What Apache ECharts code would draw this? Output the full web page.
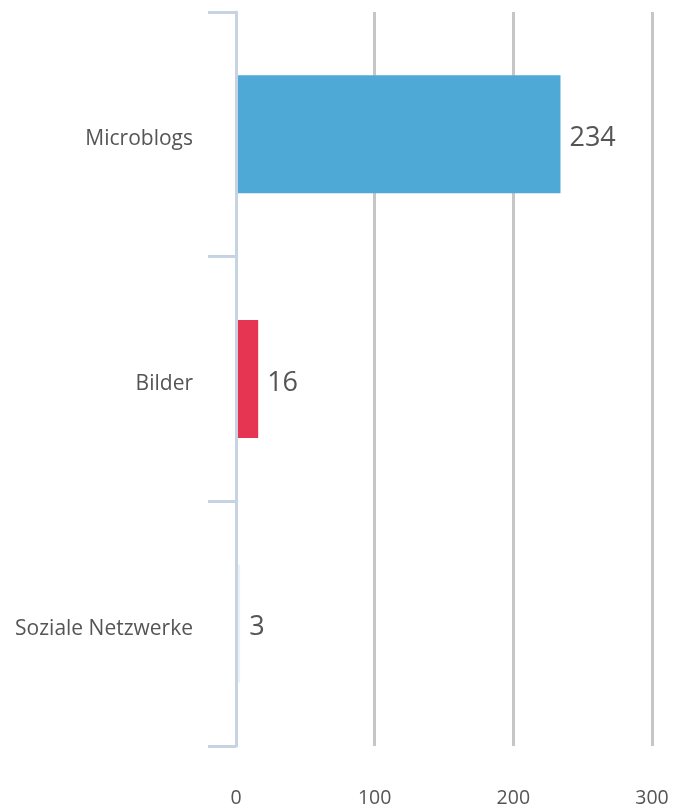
<!DOCTYPE html>
<html>
<head>
<meta charset="utf-8">
<script src="https://cdn.jsdelivr.net/npm/echarts@6/dist/echarts.min.js"></script>
<style>html,body{margin:0;padding:0;background:#fff;}#c{width:685px;height:808px;}</style>
</head>
<body>
<div id="c"></div>
<script>
const categories = ['Microblogs', 'Bilder', 'Soziale Netzwerke'];
const values = [234, 16, 3];
const barColors = ['#4fa9d6', '#e63553', '#eef2f7'];
const xTicks = [0, 100, 200, 300];

const chart = echarts.init(document.getElementById('c'));
chart.setOption({
  animation: false,
  backgroundColor: '#fff',
  textStyle: { fontFamily: 'Open Sans' },
  grid: { left: 236, right: 33, top: 12, bottom: 62, containLabel: false },
  xAxis: {
    type: 'value',
    min: xTicks[0],
    max: xTicks[xTicks.length - 1],
    interval: 100,
    axisLine: { show: false },
    axisTick: { show: false },
    axisLabel: { margin: 42, color: '#555', fontSize: 19.5, fontFamily: 'Open Sans' },
    splitLine: { show: true, lineStyle: { color: '#c6c6c6', width: 3 } }
  },
  yAxis: {
    type: 'category',
    data: categories,
    inverse: true,
    axisLine: { show: true, lineStyle: { color: '#c5d3e3', width: 3 } },
    axisTick: { show: true, length: 28, lineStyle: { color: '#c5d3e3', width: 3 } },
    axisLabel: {
      margin: 43,
      formatter: '{a|{value}}',
      rich: { a: { color: '#555', fontSize: 21, fontFamily: 'Open Sans', padding: [10, 0, 0, 0] } }
    },
    z: 3
  },
  series: [{
    type: 'bar',
    data: values.map((v, i) => ({ value: v, itemStyle: { color: barColors[i] } })),
    barWidth: 118,
    label: { show: true, position: 'right', distance: 9, color: '#555', fontSize: 27, fontFamily: 'Open Sans', offset: [0, 4] }
  }]
});
</script>
</body>
</html>
